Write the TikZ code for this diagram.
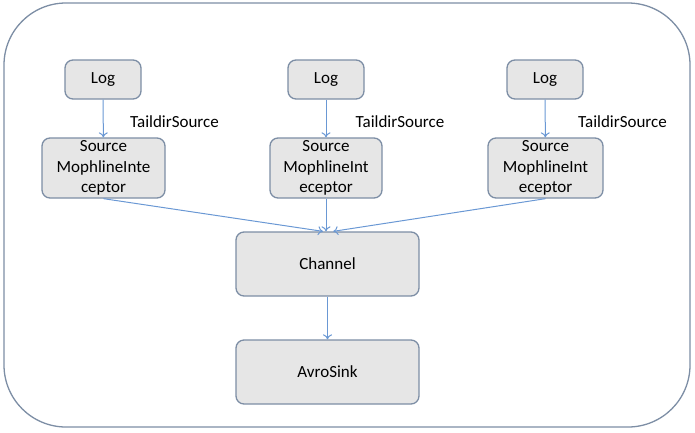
\documentclass[tikz,border=0pt]{standalone}
\usepackage{fontspec}
\setmainfont{Carlito}
\usetikzlibrary{arrows,arrows.meta,positioning}

\definecolor{boxfill}{HTML}{E6E6E6}
\definecolor{boxedge}{HTML}{7D8EA5}
\definecolor{flowblue}{HTML}{6A98D4}

\tikzset{
	block/.style={draw=boxedge, fill=boxfill, line width=1.3pt, rounded corners=8pt, align=center, inner sep=0pt, font=\fontsize{17}{20.5}\selectfont},
	logbox/.style={block, minimum width=76pt, minimum height=39pt},
	srcbox/.style={block, minimum height=60pt},
	bigbox/.style={block, minimum width=183pt, minimum height=64pt},
	flow/.style={-{To[length=5pt,width=9pt]}, draw=flowblue, line width=1pt},
	srclabel/.style={font=\fontsize{17}{20}\selectfont, inner sep=0pt}
}

\begin{document}
\begin{tikzpicture}[x=1pt,y=-1pt]
\useasboundingbox (0,0) rectangle (695,432);
\draw[boxedge, line width=1.3pt, rounded corners=62pt] (4,3) rectangle (690,427);

% three sources
\node[logbox] (log1) at (103,79.5) {Log};
\node[logbox] (log2) at (326,79.5) {Log};
\node[logbox] (log3) at (545,79.5) {Log};

\node[srcbox, minimum width=123pt] (src1) at (103.5,168) {Source\\MophlineInte\\ceptor};
\node[srcbox, minimum width=112pt] (src2) at (326,168) {Source\\MophlineInt\\eceptor};
\node[srcbox, minimum width=115pt] (src3) at (545.5,168) {Source\\MophlineInt\\eceptor};

\node[srclabel] (tail1) at (174.5,122) {TaildirSource};
\node[srclabel] (tail2) at (400,122) {TaildirSource};
\node[srclabel] (tail3) at (622.5,122) {TaildirSource};

% channel and sink
\node[bigbox] (chan) at (327.5,264) {Channel};
\node[bigbox] (sink) at (327.5,372) {AvroSink};

\draw[flow] (log1) -- (src1);
\draw[flow] (log2) -- (src2);
\draw[flow] (log3) -- (src3);
\draw[flow] (src1.south) -- (chan.98);
\draw[flow] (src2.south) -- (chan.north -| src2.south);
\draw[flow] (src3.south) -- (chan.80);
\draw[flow] (chan) -- (sink);
\end{tikzpicture}
\end{document}
